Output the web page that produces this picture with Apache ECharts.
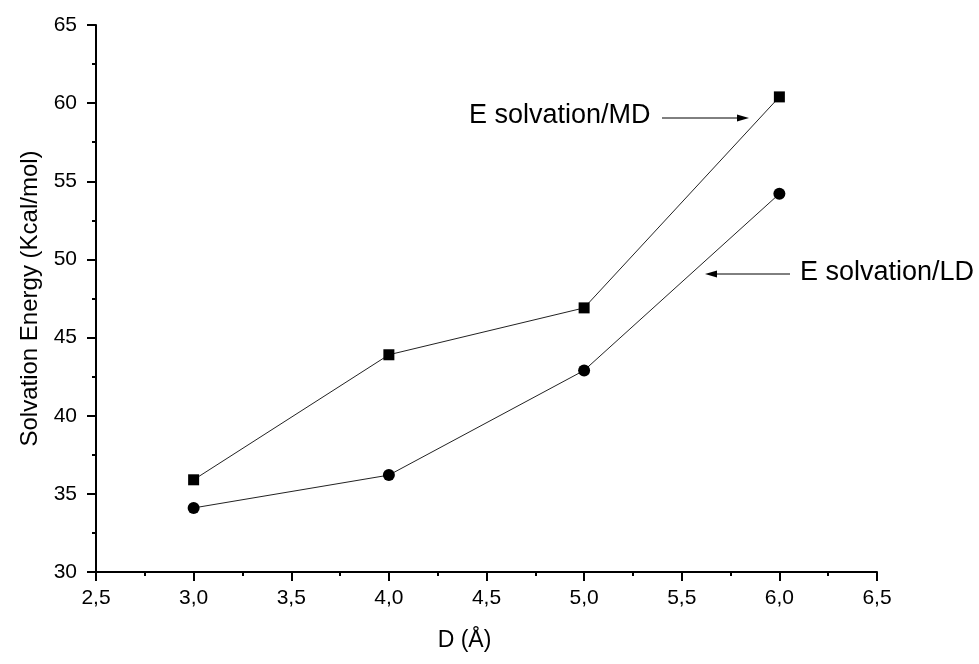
<!DOCTYPE html>
<html>
<head>
<meta charset="utf-8">
<script src="https://cdn.jsdelivr.net/npm/echarts@6/dist/echarts.min.js"></script>
<style>
    html, body { margin: 0; padding: 0; background: #fff; }
    #main { width: 979px; height: 664px; }
</style>
</head>
<body>
<div id="main"></div>
<script>
// data
var distances = [3.0, 4.0, 5.0, 6.0];
var energyMD = [35.9, 43.9, 46.9, 60.4];
var energyLD = [34.1, 36.2, 42.9, 54.2];

var FONT = '"Liberation Sans", Arial, sans-serif';

var toPairs = function (xs, ys) {
    var res = [];
    for (var i = 0; i < xs.length; i++) {
        res.push([xs[i], ys[i]]);
    }
    return res;
};

var myChart = echarts.init(document.getElementById('main'));

var option = {
    backgroundColor: '#fff',
    animation: false,
    grid: {
        left: 96,
        right: 102,
        top: 25,
        bottom: 92
    },
    xAxis: {
        type: 'value',
        min: 2.5,
        max: 6.5,
        interval: 0.5,
        name: 'D (Å)',
        nameLocation: 'middle',
        nameGap: 57,
        nameTextStyle: {
            fontFamily: FONT,
            fontSize: 23,
            color: '#000',
            padding: [0, 44, 0, 0]
        },
        axisLine: { lineStyle: { color: '#000', width: 2 } },
        axisTick: { show: true, length: 9, lineStyle: { color: '#000', width: 2 } },
        minorTick: { show: true, splitNumber: 2, length: 4, lineStyle: { color: '#000', width: 2 } },
        splitLine: { show: false },
        axisLabel: {
            margin: 16,
            fontFamily: FONT,
            fontSize: 21,
            color: '#000',
            formatter: function (v) {
                return v.toFixed(1).replace('.', ',');
            }
        }
    },
    yAxis: {
        type: 'value',
        min: 30,
        max: 65,
        interval: 5,
        name: 'Solvation Energy (Kcal/mol)',
        nameLocation: 'middle',
        nameGap: 50,
        nameTextStyle: {
            fontFamily: FONT,
            fontSize: 24,
            color: '#000'
        },
        axisLine: { show: true, lineStyle: { color: '#000', width: 2 } },
        axisTick: { show: true, length: 9, lineStyle: { color: '#000', width: 2 } },
        minorTick: { show: true, splitNumber: 2, length: 4, lineStyle: { color: '#000', width: 2 } },
        splitLine: { show: false },
        axisLabel: {
            margin: 19,
            fontFamily: FONT,
            fontSize: 21,
            color: '#000'
        }
    },
    series: [
        {
            name: 'E solvation/MD',
            type: 'line',
            data: toPairs(distances, energyMD),
            symbol: 'rect',
            symbolSize: 11,
            itemStyle: { color: '#000' },
            lineStyle: { color: '#222', width: 1 }
        },
        {
            name: 'E solvation/LD',
            type: 'line',
            data: toPairs(distances, energyLD),
            symbol: 'circle',
            symbolSize: 12,
            itemStyle: { color: '#000' },
            lineStyle: { color: '#222', width: 1 }
        }
    ],
    graphic: [
        // MD label + arrow
        {
            type: 'text',
            left: 469,
            top: 102,
            style: { text: 'E solvation/MD', fontFamily: FONT, fontSize: 27, fill: '#000' }
        },
        {
            type: 'line',
            shape: { x1: 662, y1: 118, x2: 738, y2: 118 },
            style: { stroke: '#000', lineWidth: 1 }
        },
        {
            type: 'polygon',
            shape: { points: [[749, 118], [737, 114.5], [737, 121.5]] },
            style: { fill: '#000' }
        },
        // LD label + arrow
        {
            type: 'text',
            left: 800,
            top: 259,
            style: { text: 'E solvation/LD', fontFamily: FONT, fontSize: 27, fill: '#000' }
        },
        {
            type: 'line',
            shape: { x1: 716, y1: 274, x2: 790, y2: 274 },
            style: { stroke: '#000', lineWidth: 1 }
        },
        {
            type: 'polygon',
            shape: { points: [[705, 274], [717, 270.5], [717, 277.5]] },
            style: { fill: '#000' }
        }
    ]
};

myChart.setOption(option);
</script>
</body>
</html>
